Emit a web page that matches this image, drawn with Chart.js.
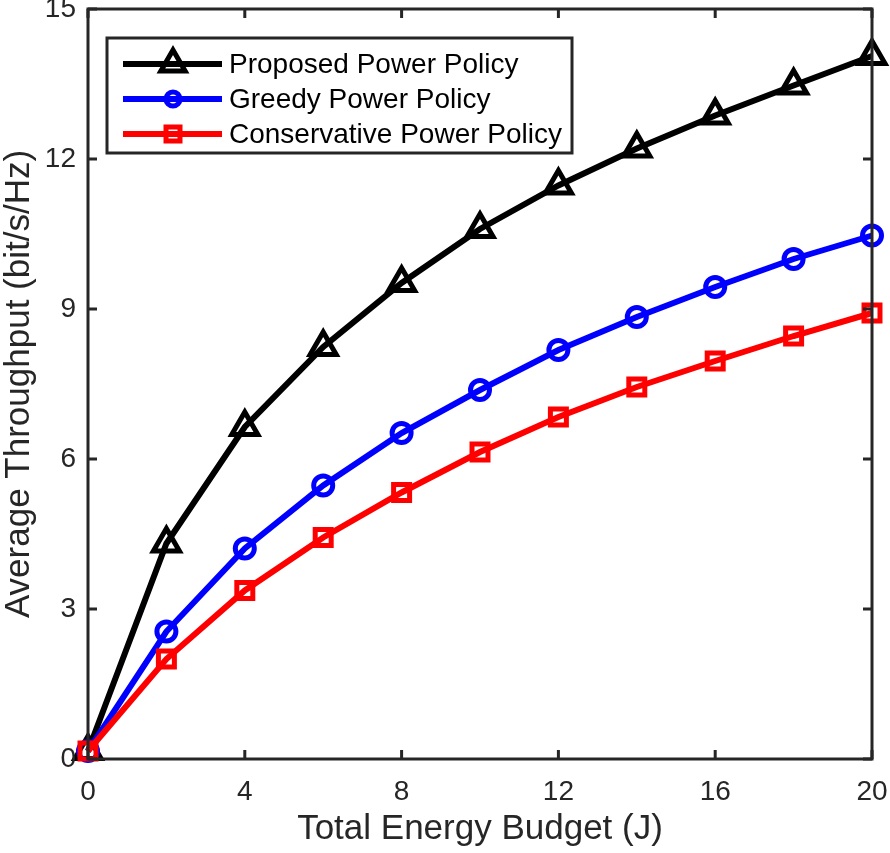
<!DOCTYPE html>
<html>
<head>
<meta charset="utf-8">
<script src="https://cdn.jsdelivr.net/npm/chart.js@4.4.1/dist/chart.umd.min.js"></script>
<style>
  html, body { margin: 0; padding: 0; background: #fff; }
  #wrap { width: 890px; height: 853px; }
</style>
</head>
<body>
<div id="wrap"><canvas id="chart" width="890" height="853"></canvas></div>
<script>
const energy = [0, 2, 4, 6, 8, 10, 12, 14, 16, 18, 20];
const proposed = [0.16, 4.31, 6.64, 8.24, 9.52, 10.6, 11.47, 12.21, 12.87, 13.47, 14.06];
const greedy = [0.16, 2.55, 4.21, 5.47, 6.52, 7.38, 8.18, 8.84, 9.44, 10.0, 10.47];
const conservative = [0.16, 2.0, 3.37, 4.43, 5.33, 6.14, 6.84, 7.44, 7.96, 8.46, 8.92];
const xTicks = [0, 4, 8, 12, 16, 20];
const yTicks = [0, 3, 6, 9, 12, 15];
const seriesNames = ['Proposed Power Policy', 'Greedy Power Policy', 'Conservative Power Policy'];
const xTitle = 'Total Energy Budget (J)';
const yTitle = 'Average Throughput (bit/s/Hz)';

const FONT = '"Liberation Sans", Arial, Helvetica, sans-serif';
const AXIS_COLOR = '#262626';

function toPoints(ys) {
  return energy.map((x, i) => ({ x: x, y: ys[i] }));
}

// MATLAB-like box, inward ticks on all sides, labels and titles
const boxAndTicks = {
  id: 'boxAndTicks',
  afterDatasetsDraw(chart) {
    const { ctx, chartArea: { left, top, right, bottom }, scales: { x, y } } = chart;
    ctx.save();
    ctx.strokeStyle = AXIS_COLOR;
    ctx.lineWidth = 3;
    ctx.beginPath();
    xTicks.forEach((t) => {
      const px = x.getPixelForValue(t);
      ctx.moveTo(px, bottom); ctx.lineTo(px, bottom - 9);
      ctx.moveTo(px, top); ctx.lineTo(px, top + 9);
    });
    yTicks.forEach((t) => {
      const py = y.getPixelForValue(t);
      ctx.moveTo(left, py); ctx.lineTo(left + 9, py);
      ctx.moveTo(right, py); ctx.lineTo(right - 9, py);
    });
    ctx.stroke();
    ctx.strokeRect(left, top, right - left, bottom - top);

    ctx.fillStyle = AXIS_COLOR;
    ctx.font = '28px ' + FONT;
    ctx.textAlign = 'center';
    ctx.textBaseline = 'middle';
    xTicks.forEach((t) => {
      ctx.fillText(String(t), x.getPixelForValue(t), bottom + 33);
    });
    ctx.textAlign = 'right';
    yTicks.forEach((t) => {
      ctx.fillText(String(t), left - 12, y.getPixelForValue(t));
    });

    ctx.font = '35px ' + FONT;
    ctx.textAlign = 'center';
    ctx.fillText(xTitle, (left + right) / 2, bottom + 70);
    ctx.translate(19, (top + bottom) / 2);
    ctx.rotate(-Math.PI / 2);
    ctx.fillText(yTitle, 0, 0);
    ctx.restore();
  },
};

function drawMarker(ctx, style, cx, cy, color) {
  ctx.save();
  ctx.strokeStyle = color;
  ctx.lineWidth = 5;
  ctx.beginPath();
  if (style === 'triangle') {
    const r = 14;
    ctx.moveTo(cx, cy - r);
    ctx.lineTo(cx + r * 0.866, cy + r * 0.5);
    ctx.lineTo(cx - r * 0.866, cy + r * 0.5);
    ctx.closePath();
  } else if (style === 'circle') {
    ctx.arc(cx, cy, 7, 0, Math.PI * 2);
  } else {
    ctx.rect(cx - 7, cy - 7, 14, 14);
  }
  ctx.stroke();
  ctx.restore();
}

// legend drawn by hand: line with marker in the middle
const boxLegend = {
  id: 'boxLegend',
  afterDraw(chart) {
    const { ctx } = chart;
    const styles = ['triangle', 'circle', 'rect'];
    const colors = ['#000000', '#0000ff', '#ff0000'];
    ctx.save();
    ctx.fillStyle = '#ffffff';
    ctx.fillRect(107, 38, 465, 115);
    ctx.strokeStyle = AXIS_COLOR;
    ctx.lineWidth = 3;
    ctx.strokeRect(107, 38, 465, 115);
    seriesNames.forEach((name, i) => {
      const yy = 64 + i * 35;
      ctx.strokeStyle = colors[i];
      ctx.lineWidth = 6;
      ctx.beginPath();
      ctx.moveTo(123, yy);
      ctx.lineTo(222, yy);
      ctx.stroke();
      drawMarker(ctx, styles[i], 173, yy, colors[i]);
      ctx.fillStyle = '#000';
      ctx.font = '28px ' + FONT;
      ctx.textAlign = 'left';
      ctx.textBaseline = 'middle';
      ctx.fillText(name, 229, yy + 1);
    });
    ctx.restore();
  },
};

const config = {
  type: 'line',
  data: {
    datasets: [
      {
        label: seriesNames[0],
        data: toPoints(proposed),
        borderColor: '#000000',
        backgroundColor: 'rgba(0,0,0,0)',
        borderWidth: 6,
        pointStyle: 'triangle',
        pointRadius: 15,
        pointBorderWidth: 5,
      },
      {
        label: seriesNames[1],
        data: toPoints(greedy),
        borderColor: '#0000ff',
        backgroundColor: 'rgba(0,0,0,0)',
        borderWidth: 6,
        pointStyle: 'circle',
        pointRadius: 9.5,
        pointBorderWidth: 5,
      },
      {
        label: seriesNames[2],
        data: toPoints(conservative),
        borderColor: '#ff0000',
        backgroundColor: 'rgba(0,0,0,0)',
        borderWidth: 6,
        pointStyle: 'rect',
        pointRadius: 11.3,
        pointBorderWidth: 5,
      },
    ].reverse(),
  },
  options: {
    responsive: false,
    animation: false,
    clip: false,
    layout: { autoPadding: false, padding: { left: 0, right: 18, top: 9, bottom: 0 } },
    plugins: {
      legend: { display: false },
      tooltip: { enabled: false },
    },
    scales: {
      x: {
        type: 'linear',
        min: 0,
        max: 20,
        grid: { display: false, drawTicks: false },
        border: { display: false },
        ticks: { display: false },
        afterFit: (axis) => { axis.height = 94; },
      },
      y: {
        type: 'linear',
        min: 0,
        max: 15,
        grid: { display: false, drawTicks: false },
        border: { display: false },
        ticks: { display: false },
        afterFit: (axis) => { axis.width = 88; },
      },
    },
  },
  plugins: [boxAndTicks, boxLegend],
};

new Chart(document.getElementById('chart').getContext('2d'), config);
</script>
</body>
</html>
